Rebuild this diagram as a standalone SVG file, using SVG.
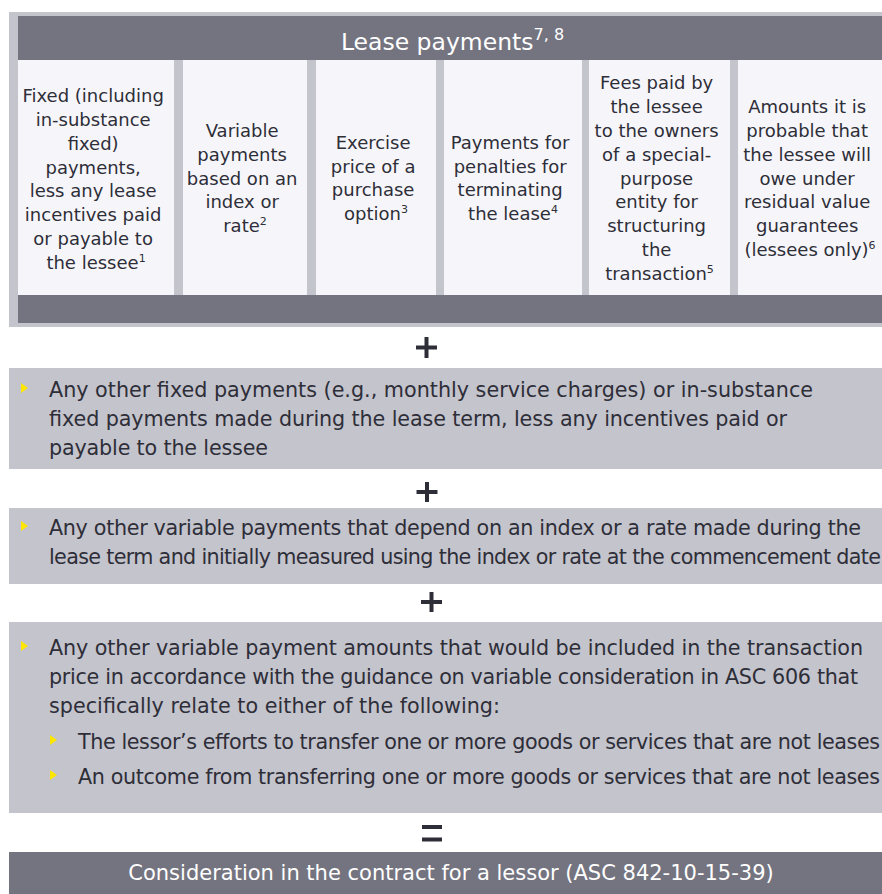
<svg xmlns="http://www.w3.org/2000/svg" width="882" height="894" viewBox="0 0 882 894">
  <style>
    .frame { fill: #c4c4cd; }
    .dark { fill: #747480; }
    .cell { fill: #f6f6fa; }
    .band { fill: #c4c4cd; }
    .col { font-family: "DejaVu Sans", "Liberation Sans", sans-serif; font-size: 18px; fill: #2e2e38; text-anchor: middle; }
    .head { font-family: "DejaVu Sans", "Liberation Sans", sans-serif; font-size: 23.5px; fill: #ffffff; text-anchor: middle; }
    .body { font-family: "DejaVu Sans", "Liberation Sans", sans-serif; font-size: 20.7px; fill: #2e2e38; }
    .total { font-family: "DejaVu Sans", "Liberation Sans", sans-serif; font-size: 21px; fill: #ffffff; text-anchor: middle; }
    .sup { font-size: 11px; }
    .bullet { fill: #ffe600; }
    .op { stroke: #2e2e38; stroke-width: 4; fill: none; }
  </style>
  <defs>
    <path id="tri" d="M0,-5 L7,0 L0,5 Z"/>
  </defs>

  <rect width="882" height="894" fill="#ffffff"/>

  <!-- Lease payments table -->
  <g id="lease-payments">
    <rect class="frame" x="9" y="12" width="873" height="315"/>
    <rect class="dark" x="18" y="16" width="864" height="44"/>
    <rect class="dark" x="18" y="295" width="864" height="28"/>
    <text class="head" x="452.5" y="50">Lease payments<tspan font-size="16" dy="-10">7, 8</tspan></text>

    <g id="col-fixed">
      <rect class="cell" x="18" y="60" width="156" height="235"/>
      <text class="col">
        <tspan x="96" y="102">Fixed (including</tspan>
        <tspan x="96" y="125.9">in-substance</tspan>
        <tspan x="96" y="149.7">fixed)</tspan>
        <tspan x="96" y="173.6">payments,</tspan>
        <tspan x="96" y="197.4">less any lease</tspan>
        <tspan x="96" y="221.3">incentives paid</tspan>
        <tspan x="96" y="245.1">or payable to</tspan>
        <tspan x="96" y="269">the lessee<tspan class="sup" dy="-7">1</tspan></tspan>
      </text>
    </g>

    <g id="col-variable">
      <rect class="cell" x="183" y="60" width="124" height="235"/>
      <text class="col">
        <tspan x="245" y="136.8">Variable</tspan>
        <tspan x="245" y="160.6">payments</tspan>
        <tspan x="245" y="184.5">based on an</tspan>
        <tspan x="245" y="208.4">index or</tspan>
        <tspan x="245" y="232.2">rate<tspan class="sup" dy="-7">2</tspan></tspan>
      </text>
    </g>

    <g id="col-purchase">
      <rect class="cell" x="316" y="60" width="120" height="235"/>
      <text class="col">
        <tspan x="376" y="148.7">Exercise</tspan>
        <tspan x="376" y="172.6">price of a</tspan>
        <tspan x="376" y="196.4">purchase</tspan>
        <tspan x="376" y="220.3">option<tspan class="sup" dy="-7">3</tspan></tspan>
      </text>
    </g>

    <g id="col-penalties">
      <rect class="cell" x="444" y="60" width="138" height="235"/>
      <text class="col">
        <tspan x="513" y="148.7">Payments for</tspan>
        <tspan x="513" y="172.6">penalties for</tspan>
        <tspan x="513" y="196.4">terminating</tspan>
        <tspan x="513" y="220.3">the lease<tspan class="sup" dy="-7">4</tspan></tspan>
      </text>
    </g>

    <g id="col-fees">
      <rect class="cell" x="589" y="60" width="141" height="235"/>
      <text class="col">
        <tspan x="659.5" y="89.1">Fees paid by</tspan>
        <tspan x="659.5" y="113">the lessee</tspan>
        <tspan x="659.5" y="136.8">to the owners</tspan>
        <tspan x="659.5" y="160.7">of a special-</tspan>
        <tspan x="659.5" y="184.5">purpose</tspan>
        <tspan x="659.5" y="208.4">entity for</tspan>
        <tspan x="659.5" y="232.2">structuring</tspan>
        <tspan x="659.5" y="256.1">the</tspan>
        <tspan x="659.5" y="279.9">transaction<tspan class="sup" dy="-7">5</tspan></tspan>
      </text>
    </g>

    <g id="col-residual">
      <rect class="cell" x="738" y="60" width="144" height="235"/>
      <text class="col">
        <tspan x="810" y="113">Amounts it is</tspan>
        <tspan x="810" y="136.8">probable that</tspan>
        <tspan x="810" y="160.7">the lessee will</tspan>
        <tspan x="810" y="184.5">owe under</tspan>
        <tspan x="810" y="208.4">residual value</tspan>
        <tspan x="810" y="232.2">guarantees</tspan>
        <tspan x="810" y="256.1">(lessees only)<tspan class="sup" dy="-7">6</tspan></tspan>
      </text>
    </g>
  </g>

  <!-- Operators between the bands -->
  <g id="operators">
    <path class="op" d="M416,347.5 H437 M426.5,337 V358"/>
    <path class="op" d="M416.5,492 H437.5 M427,482 V502"/>
    <path class="op" d="M421,602 H442 M431.5,592 V612" stroke="#1a1a24"/>
    <path class="op" d="M422,827 H442 M422,839.5 H442" stroke="#111111"/>
  </g>

  <!-- Other fixed payments -->
  <g id="other-fixed">
    <rect class="band" x="9" y="368" width="873" height="101"/>
    <use href="#tri" class="bullet" x="21" y="388"/>
    <text class="body" x="49" y="397" textLength="764">Any other fixed payments (e.g., monthly service charges) or in-substance</text>
    <text class="body" x="49" y="426" textLength="738">fixed payments made during the lease term, less any incentives paid or</text>
    <text class="body" x="49" y="455" textLength="219">payable to the lessee</text>
  </g>

  <!-- Other variable payments based on an index or rate -->
  <g id="other-variable">
    <rect class="band" x="9" y="508" width="873" height="76"/>
    <use href="#tri" class="bullet" x="21" y="526"/>
    <text class="body" x="49" y="535" textLength="812">Any other variable payments that depend on an index or a rate made during the</text>
    <text class="body" x="49" y="564" textLength="832">lease term and initially measured using the index or rate at the commencement date</text>
  </g>

  <!-- Variable consideration under ASC 606 -->
  <g id="variable-consideration">
    <rect class="band" x="9" y="622" width="873" height="191"/>
    <use href="#tri" class="bullet" x="21" y="646"/>
    <text class="body" x="49" y="655" textLength="814">Any other variable payment amounts that would be included in the transaction</text>
    <text class="body" x="49" y="684" textLength="809">price in accordance with the guidance on variable consideration in ASC 606 that</text>
    <text class="body" x="49" y="713" textLength="451">specifically relate to either of the following:</text>
    <use href="#tri" class="bullet" x="50" y="740"/>
    <text class="body" x="78" y="749" textLength="802">The lessor’s efforts to transfer one or more goods or services that are not leases</text>
    <use href="#tri" class="bullet" x="50" y="775"/>
    <text class="body" x="78" y="784" textLength="802">An outcome from transferring one or more goods or services that are not leases</text>
  </g>

  <!-- Result -->
  <g id="consideration">
    <rect class="dark" x="9" y="852" width="873" height="42"/>
    <text class="total" x="451" y="880">Consideration in the contract for a lessor (ASC 842-10-15-39)</text>
  </g>
</svg>
